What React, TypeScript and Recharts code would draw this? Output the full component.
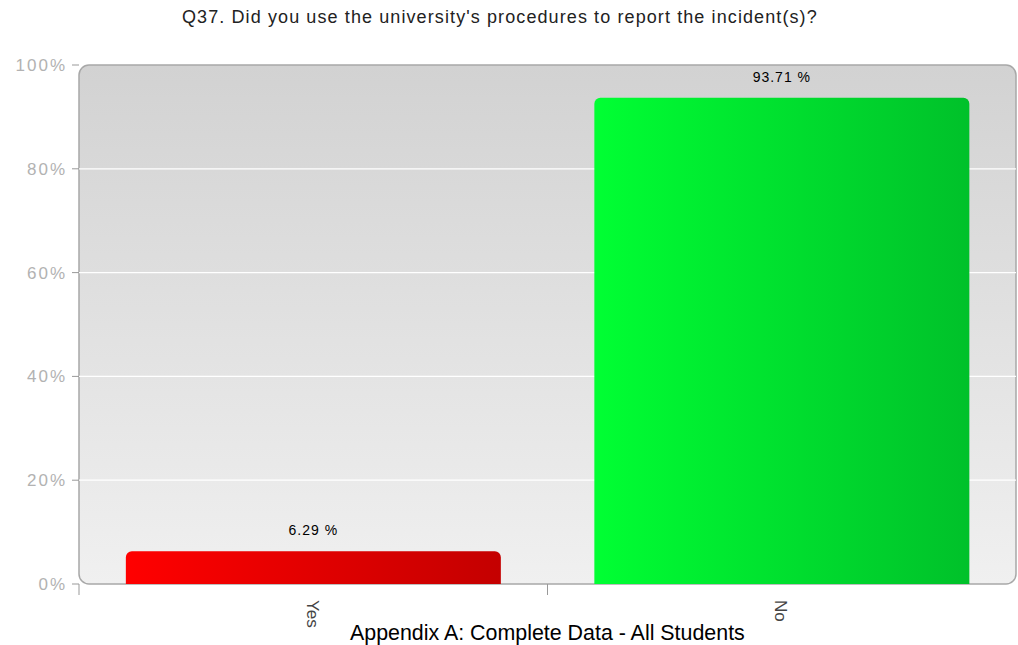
import React from 'react';
import { BarChart, Bar, XAxis, YAxis, CartesianGrid, ReferenceArea, LabelList, Cell } from 'recharts';

const categories = ['Yes', 'No'];
const percents = [6.29, 93.71];
const yTicks = [0, 20, 40, 60, 80, 100];
const gridValues = [20, 40, 60, 80];
const barFills = ['url(#redGrad)', 'url(#greenGrad)'];
const title = "Q37. Did you use the university's procedures to report the incident(s)?";
const footer = 'Appendix A: Complete Data - All Students';

const data = categories.map((c, i) => ({ name: c, value: percents[i] }));

const XTick = (props: any) => {
  const { x, y, payload } = props;
  const off = payload.offset ?? 0;
  return (
    <g>
      <line x1={x - off} x2={x - off} y1={y} y2={y + 11} stroke="#999" strokeWidth={1} />
      <text
        transform={`translate(${x - 1},${y + 16}) rotate(90)`}
        textAnchor="start"
        dominantBaseline="central"
        fontFamily="Liberation Sans, Arial, sans-serif"
        fontSize={17}
        fill="#444"
      >
        {payload.value}
      </text>
    </g>
  );
};

export default function App() {
  return (
    <div style={{ position: 'absolute', left: 0, top: 0, width: 1018, height: 645, background: '#fff', overflow: 'hidden' }}>
      <div
        style={{
          position: 'absolute',
          left: 182,
          top: 7,
          fontFamily: 'Liberation Sans, Arial, sans-serif',
          fontSize: 18,
          letterSpacing: 1.1,
          color: '#222',
          whiteSpace: 'nowrap',
        }}
      >
        {title}
      </div>
      <BarChart
        width={1018}
        height={645}
        data={data}
        margin={{ top: 65, right: 2, bottom: 0, left: 0 }}
        barCategoryGap="10%"
      >
        <defs>
          <linearGradient id="bgGrad" x1="0" y1="0" x2="0" y2="1">
            <stop offset="0%" stopColor="#d2d2d2" />
            <stop offset="100%" stopColor="#f0f0f0" />
          </linearGradient>
          <linearGradient id="redGrad" x1="0" y1="0" x2="1" y2="0">
            <stop offset="0%" stopColor="#ff0000" />
            <stop offset="100%" stopColor="#c40000" />
          </linearGradient>
          <linearGradient id="greenGrad" x1="0" y1="0" x2="1" y2="0">
            <stop offset="0%" stopColor="#00ff33" />
            <stop offset="100%" stopColor="#00c12a" />
          </linearGradient>
        </defs>
        <ReferenceArea
          y1={0}
          y2={100}
          fill="url(#bgGrad)"
          fillOpacity={1}
          stroke="#a8a8a8"
          strokeWidth={1.5}
          radius={10}
          zIndex={-200}
          ifOverflow="visible"
        />
        <CartesianGrid vertical={false} horizontalValues={gridValues} stroke="#ffffff" strokeWidth={1.2} />
        <XAxis
          dataKey="name"
          axisLine={false}
          tickLine={false}
          tickSize={0}
          tickMargin={0}
          height={61}
          tick={<XTick />}
          interval={0}
        />
        <YAxis
          domain={[0, 100]}
          ticks={yTicks}
          width={79}
          axisLine={false}
          tickSize={7}
          tickMargin={5}
          tickLine={{ stroke: '#999' }}
          tickFormatter={(v: number) => `${v}%`}
          tick={{ fill: '#b2b2b2', fontSize: 17, fontFamily: 'Liberation Sans, Arial, sans-serif', letterSpacing: 2 }}
        />
        <Bar dataKey="value" isAnimationActive={false} radius={[6, 6, 0, 0]}>
          {data.map((d, i) => (
            <Cell key={d.name} fill={barFills[i]} />
          ))}
          <LabelList
            dataKey="value"
            position="top"
            offset={16}
            formatter={(v: number) => `${v.toFixed(2)} %`}
            style={{ fill: '#000', fontSize: 14, fontFamily: 'Liberation Sans, Arial, sans-serif', letterSpacing: 1 }}
          />
        </Bar>
      </BarChart>
      <div
        style={{
          position: 'absolute',
          left: 350,
          top: 621,
          fontFamily: 'Liberation Sans, Arial, sans-serif',
          fontSize: 21.4,
          color: '#000',
          whiteSpace: 'nowrap',
        }}
      >
        {footer}
      </div>
    </div>
  );
}
